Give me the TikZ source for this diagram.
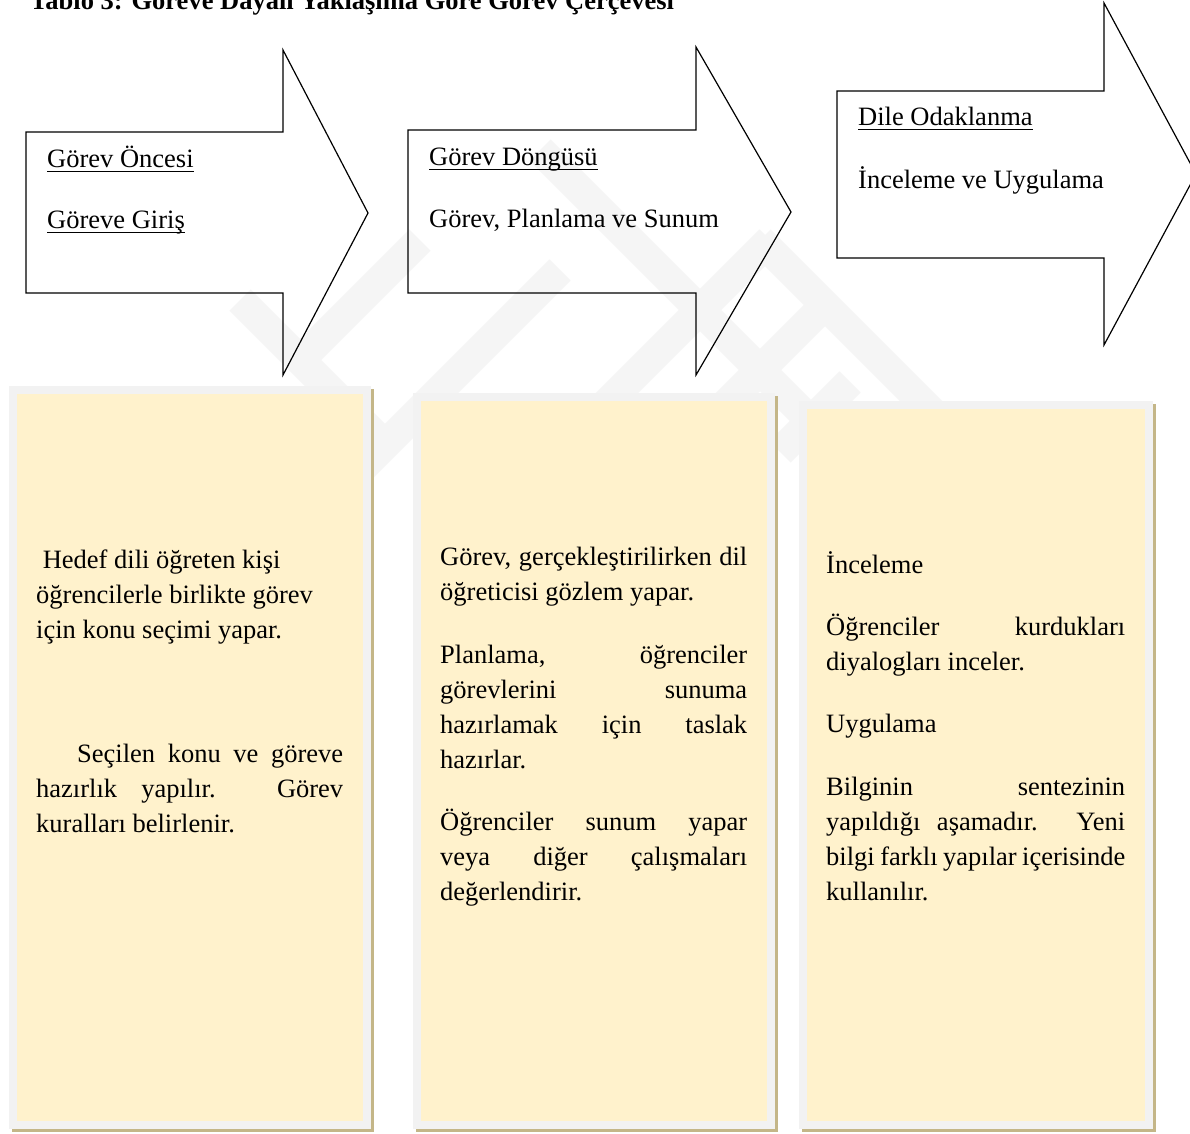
\documentclass[tikz,border=0pt]{standalone}
\usepackage{fontspec}
\setmainfont{Liberation Serif}
\definecolor{cream}{RGB}{255,242,204}
\definecolor{bordergray}{RGB}{242,242,242}
\definecolor{shadowtan}{RGB}{196,182,136}
\definecolor{wmark}{RGB}{245,245,245}
\newcommand\jline[2]{\makebox[#1][s]{#2}}
\begin{document}
\begin{tikzpicture}[x=1pt,y=-1pt,
  arrowshape/.style={draw=black, line width=1.2pt, fill=white, fill opacity=0, line join=miter},
  txt/.style={inner sep=0pt, anchor=base west, font=\fontsize{26.5}{32}\selectfont, text=black},
  titletxt/.style={inner sep=0pt, anchor=base west, font=\fontsize{26.5}{32}\selectfont\bfseries, text=black},
  uline/.style={draw=black, line width=1.3pt},
  boxshadow/.style={fill=shadowtan, draw=none},
  boxbody/.style={fill=cream, draw=bordergray, line width=8pt},
  wband/.style={draw=wmark, line width=30pt, line cap=butt}]
\useasboundingbox (0,0) rectangle (1190,1133);
\fill[white] (0,0) rectangle (1190,1133);

% faint watermark bands
\draw[wband] (300,360) -- (420,240);
\draw[wband] (290,540) -- (560,270);
\draw[wband] (590,420) -- (770,240);
\draw[wband] (700,430) -- (830,300);
\draw[wband] (780,452) -- (850,382);
\draw[wband] (240,300) -- (390,450);
\draw[wband] (540,150) -- (830,440);
\draw[wband] (760,240) -- (980,460);

% title
\node[titletxt] (title) at (30,9) {Tablo 3: Göreve Dayalı Yaklaşıma Göre Görev Çerçevesi};

% arrows
\draw[arrowshape] (26,132) -- (283,132) -- (283,50) -- (368,213) -- (283,375) -- (283,293) -- (26,293) -- cycle;
\draw[arrowshape] (408,130) -- (696,130) -- (696,47) -- (791,212) -- (696,375) -- (696,293) -- (408,293) -- cycle;
\draw[arrowshape] (837,91) -- (1104,91) -- (1104,3) -- (1196,174) -- (1104,345) -- (1104,258) -- (837,258) -- cycle;

\node[txt] (a1h) at (47,167) {Görev Öncesi};
\node[txt] (a1s) at (47,228) {Göreve Giriş};
\draw[uline] ([yshift=-4.5pt]a1h.base west) -- ([yshift=-4.5pt]a1h.base east);
\draw[uline] ([yshift=-4.5pt]a1s.base west) -- ([yshift=-4.5pt]a1s.base east);

\node[txt] (a2h) at (429,165) {Görev Döngüsü};
\node[txt] (a2s) at (429,227) {Görev, Planlama ve Sunum};
\draw[uline] ([yshift=-4.5pt]a2h.base west) -- ([yshift=-4.5pt]a2h.base east);

\node[txt] (a3h) at (858,125) {Dile Odaklanma};
\node[txt] (a3s) at (858,188) {İnceleme ve Uygulama};
\draw[uline] ([yshift=-4.5pt]a3h.base west) -- ([yshift=-4.5pt]a3h.base east);

% boxes
\fill[boxshadow] (12,389) rectangle (374,1132);
\draw[boxbody] (13,390) rectangle (367,1125);
\fill[boxshadow] (416,396) rectangle (778,1132);
\draw[boxbody] (417,397) rectangle (771,1125);
\fill[boxshadow] (802,404) rectangle (1156,1132);
\draw[boxbody] (803,405) rectangle (1149,1125);

% box 1 text
\node[txt] (b1l1) at (36,568) {\hspace*{6.6pt}Hedef dili öğreten kişi};
\node[txt] (b1l2) at (36,603) {öğrencilerle birlikte görev};
\node[txt] (b1l3) at (36,638) {için konu seçimi yapar.};
\node[txt] (b1l4) at (77,762) {\jline{266pt}{Seçilen konu ve göreve}};
\node[txt] (b1l5) at (36,797) {\jline{307pt}{hazırlık yapılır. Görev}};
\node[txt] (b1l6) at (36,832) {kuralları belirlenir.};

% box 2 text
\node[txt] (b2l1) at (440,565) {\jline{307pt}{Görev, gerçekleştirilirken dil}};
\node[txt] (b2l2) at (440,600) {öğreticisi gözlem yapar.};
\node[txt] (b2l3) at (440,663) {\jline{307pt}{Planlama, öğrenciler}};
\node[txt] (b2l4) at (440,698) {\jline{307pt}{görevlerini sunuma}};
\node[txt] (b2l5) at (440,733) {\jline{307pt}{hazırlamak için taslak}};
\node[txt] (b2l6) at (440,768) {hazırlar.};
\node[txt] (b2l7) at (440,830) {\jline{307pt}{Öğrenciler sunum yapar}};
\node[txt] (b2l8) at (440,865) {\jline{307pt}{veya diğer çalışmaları}};
\node[txt] (b2l9) at (440,900) {değerlendirir.};

% box 3 text
\node[txt] (b3l1) at (826,573) {İnceleme};
\node[txt] (b3l2) at (826,635) {\jline{299pt}{Öğrenciler kurdukları}};
\node[txt] (b3l3) at (826,670) {diyalogları inceler.};
\node[txt] (b3l4) at (826,732) {Uygulama};
\node[txt] (b3l5) at (826,795) {\jline{299pt}{Bilginin sentezinin}};
\node[txt] (b3l6) at (826,830) {\jline{299pt}{yapıldığı aşamadır. Yeni}};
\node[txt] (b3l7) at (826,865) {\jline{299pt}{bilgi farklı yapılar içerisinde}};
\node[txt] (b3l8) at (826,900) {kullanılır.};
\end{tikzpicture}
\end{document}
